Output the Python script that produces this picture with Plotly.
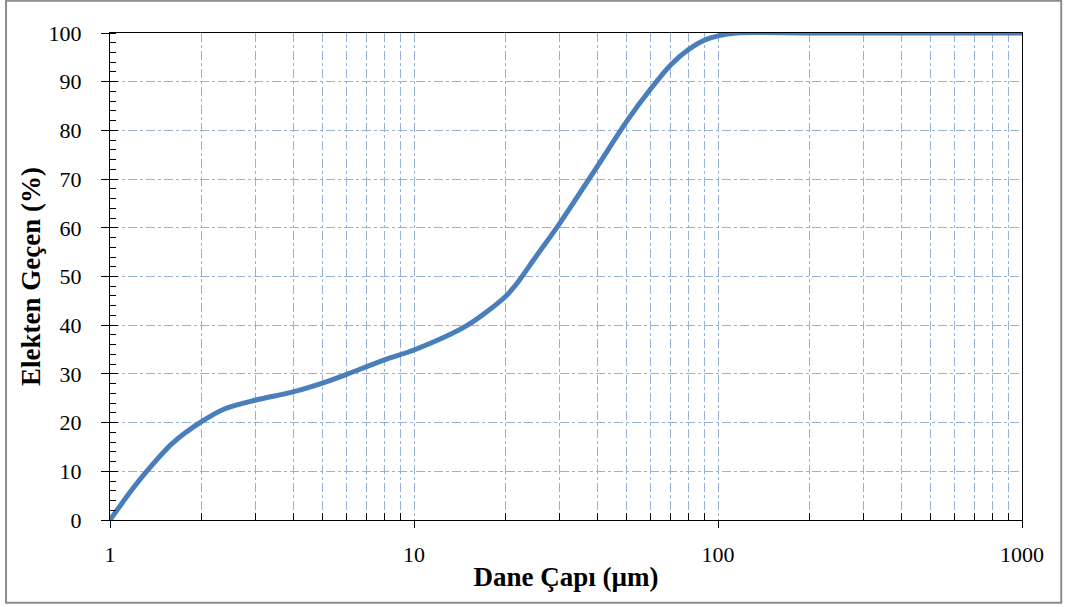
import plotly.graph_objects as go

# Data
diameter_um = [1, 1.18, 1.32, 1.6, 2, 2.4, 3, 4, 5, 6, 8, 10, 15, 20, 22, 25, 30, 40, 50, 60, 70, 80, 90, 100, 115, 200, 500, 1000]
passing_pct = [0, 6.2, 10, 15.7, 20.2, 22.9, 24.6, 26.3, 28.1, 29.9, 32.9, 34.9, 40, 45.9, 48.9, 53.8, 60.7, 72.5, 81.8, 88.5, 93.5, 96.6, 98.5, 99.4, 100, 100, 100, 100]

x_major_ticks = [1, 10, 100, 1000]
x_tick_labels = ["1", "10", "100", "1000"]
y_major_ticks = [0, 10, 20, 30, 40, 50, 60, 70, 80, 90, 100]

x_minor_ticks = [m * d for d in [1, 10, 100] for m in range(2, 10)]

GRID = "#95B3D7"
LINE = "#4A7EBB"
FONT = "Liberation Serif"

fig = go.Figure()
fig.add_trace(go.Scatter(
    x=diameter_um, y=passing_pct, mode="lines",
    line=dict(color=LINE, width=5, shape="spline", smoothing=0.8),
    showlegend=False, hoverinfo="x+y",
))
# invisible trace for the overlay axis carrying crossing major ticks
fig.add_trace(go.Scatter(x=[1], y=[0], yaxis="y2", mode="markers",
                         marker=dict(opacity=0), showlegend=False, hoverinfo="skip"))

fig.update_layout(
    width=1066, height=607,
    margin=dict(l=110, r=44, t=33, b=87),
    paper_bgcolor="white", plot_bgcolor="white",
    font=dict(family=FONT, color="black", size=22),
    xaxis=dict(
        type="log", range=[0, 3],
        tickvals=x_major_ticks, ticktext=x_tick_labels,
        ticks="outside", ticklen=7, tickcolor="black", tickwidth=1,
        tickfont=dict(family=FONT, size=22), ticklabelstandoff=8,
        showline=True, linecolor="black", linewidth=1, mirror=True,
        showgrid=True, gridcolor=GRID, griddash="dashdot", gridwidth=1,
        minor=dict(tickvals=x_minor_ticks, ticks="inside", ticklen=7, tickcolor="black",
                   showgrid=True, gridcolor=GRID, griddash="dashdot", gridwidth=1),
        title=dict(text="Dane Çapı (µm)", font=dict(family=FONT, size=27, weight="bold"), standoff=0),
        zeroline=False,
    ),
    yaxis=dict(
        range=[0, 100], tickvals=y_major_ticks,
        ticks="outside", ticklen=8, tickcolor="black", tickwidth=1,
        tickfont=dict(family=FONT, size=22), ticklabelstandoff=15,
        showline=True, linecolor="black", linewidth=1, mirror=True,
        showgrid=True, gridcolor=GRID, griddash="dashdot", gridwidth=1,
        minor=dict(dtick=2, ticks="inside", ticklen=6, tickcolor="black", showgrid=False),
        title=dict(text="Elekten Geçen (%)", font=dict(family=FONT, size=27, weight="bold"), standoff=0),
        zeroline=False,
    ),
    yaxis2=dict(
        overlaying="y", side="left", range=[0, 100], tickvals=y_major_ticks,
        ticks="inside", ticklen=8, tickcolor="black", showticklabels=False,
        showgrid=False, zeroline=False, showline=False,
    ),
    shapes=[dict(type="rect", xref="paper", yref="paper",
                 x0=-0.114, x1=1.043, y0=-0.170, y1=1.066,
                 line=dict(color="#8C8C8C", width=2), fillcolor="rgba(0,0,0,0)", layer="below")],
)

fig.write_html("out.html", config={"displayModeBar": False},
               post_script="document.body.style.margin='0';")
